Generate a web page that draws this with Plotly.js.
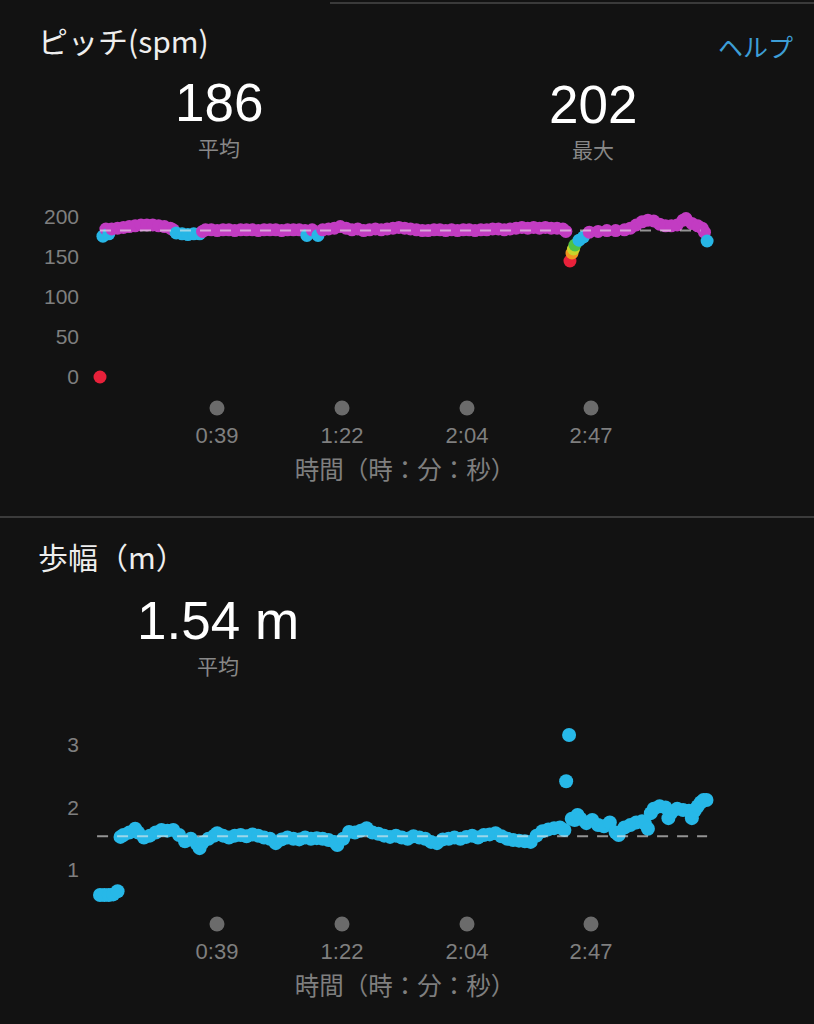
<!DOCTYPE html>
<html>
<head>
<meta charset="utf-8">
<script src="https://cdn.plot.ly/plotly-3.0.1.min.js"></script>
<style>
  html, body { margin: 0; padding: 0; background: #121212; }
  #chart { width: 814px; height: 1024px; }
</style>
</head>
<body>
<div id="chart"></div>
<script>
// ---------- data ----------
const tickTimes = [39.93, 82.59, 125.26, 167.58];
const tickLabels = ['0:39', '1:22', '2:04', '2:47'];

const pitchTime = [0, 1, 2, 3, 4, 6, 8, 10, 12, 14, 16, 18, 20, 22, 24, 25, 26, 28, 30, 32, 34, 35, 36, 38, 40, 42, 44, 46, 48, 50, 52, 54, 56, 58, 60, 62, 64, 66, 68, 70, 70.6, 72.4, 74.4, 76, 78, 80, 82, 84, 86, 88, 90, 92, 94, 96, 98, 100, 102, 104, 106, 108, 110, 112, 114, 116, 118, 120, 122, 124, 126, 128, 130, 132, 134, 136, 138, 140, 142, 144, 146, 148, 150, 152, 154, 156, 158, 159, 160.4, 161.1, 161.6, 162.1, 163.5, 165, 167, 170, 173, 176, 179, 181, 183, 185, 187, 189, 191, 193, 195, 197, 199, 200, 202, 204, 205.5, 206.3, 207.2];
const pitchValue = [0, 176, 185, 179, 185, 186, 187, 188, 189, 190, 190, 190, 189, 188, 186, 184, 180, 179, 178, 179, 179, 182, 184, 184, 183, 184, 184, 183, 184, 184, 184, 183, 184, 184, 184, 183, 184, 184, 184, 183, 177, 184, 177, 184, 185, 186, 188, 186, 184, 185, 183, 184, 185, 184, 185, 186, 187, 186, 185, 184, 183, 183, 184, 184, 183, 184, 183, 184, 184, 183, 184, 184, 185, 185, 184, 185, 186, 187, 186, 187, 186, 187, 186, 186, 185, 182, 145, 155, 160, 165, 171, 175, 181, 182, 183, 183, 184, 186, 190, 194, 196, 195, 191, 189, 189, 190, 196, 198, 192, 189, 186, 181, 170];
const pitchMean = 183;

const strideTime = [0, 1.5, 3, 4.5, 6, 7, 8, 10, 12, 13, 15, 17, 19, 21, 23, 25, 27, 29, 31, 33, 34, 35, 37, 39, 40, 42, 44, 46, 48, 50, 52, 54, 56, 58, 60, 62, 64, 66, 68, 70, 72, 74, 76, 78, 80, 81, 83, 85, 87, 89, 91, 93, 95, 97, 99, 101, 103, 105, 107, 109, 111, 113, 115, 117, 119, 121, 123, 125, 127, 129, 131, 133, 135, 137, 139, 141, 143, 145, 147, 149, 151, 153, 155, 157, 158.5, 159.1, 160.1, 161, 162, 163, 164, 166, 168, 170, 172, 174, 176, 177, 179, 181, 183, 185, 186, 187, 188, 189, 191, 193, 194, 195, 197, 199, 201, 202, 203, 204, 205, 206, 207];
const strideValue = [0.6, 0.6, 0.6, 0.61, 0.66, 1.53, 1.56, 1.6, 1.66, 1.6, 1.52, 1.55, 1.6, 1.64, 1.63, 1.64, 1.56, 1.46, 1.5, 1.42, 1.35, 1.44, 1.5, 1.55, 1.59, 1.55, 1.52, 1.55, 1.56, 1.54, 1.57, 1.55, 1.52, 1.5, 1.43, 1.49, 1.52, 1.5, 1.49, 1.52, 1.5, 1.51, 1.5, 1.48, 1.45, 1.4, 1.5, 1.61, 1.6, 1.63, 1.67, 1.6, 1.58, 1.55, 1.53, 1.55, 1.52, 1.5, 1.54, 1.52, 1.5, 1.45, 1.43, 1.49, 1.5, 1.52, 1.5, 1.53, 1.55, 1.52, 1.56, 1.57, 1.59, 1.54, 1.5, 1.48, 1.47, 1.46, 1.45, 1.55, 1.62, 1.65, 1.67, 1.68, 1.64, 2.42, 3.16, 1.82, 1.8, 1.88, 1.82, 1.75, 1.8, 1.72, 1.7, 1.76, 1.6, 1.56, 1.68, 1.72, 1.76, 1.78, 1.74, 1.66, 1.91, 1.98, 2.02, 2.0, 1.83, 1.92, 1.98, 1.96, 1.95, 1.83, 1.95, 2.02, 2.08, 2.12, 2.12];
const strideMean = 1.54;

// ---------- styling ----------
const BG = '#121212';
const GRAY = '#7f7f7f';
const CJK = '"Noto Sans CJK JP", "Noto Sans", sans-serif';
const NUM = '"Liberation Sans", Arial, sans-serif';

function pitchColor(v) {
  if (v < 150) return '#e8213a';
  if (v < 158) return '#f29420';
  if (v < 162) return '#c9d42a';
  if (v < 170) return '#4fc246';
  if (v < 181) return '#27b6e6';
  return '#c23cc2';
}

const W = 814, H = 1024;
const pxX = p => p / W;
const pxY = p => 1 - p / H;

// x mapping: px = 100 + t*2.93
const xr = [(80 - 100) / 2.93, (730 - 100) / 2.93];
const xDom = [pxX(80), pxX(730)];
// top: v = (377 - py)/0.8
const topRange = [(377 - 420) / 0.8, (377 - 200) / 0.8];
const topDot = (377 - 408) / 0.8;
// bottom: v = 1 + (870 - py)/62.5
const botRange = [1 + (870 - 936) / 62.5, 1 + (870 - 720) / 62.5];
const botDot = 1 + (870 - 924) / 62.5;

const traces = [
  {
    x: pitchTime, y: pitchValue, xaxis: 'x', yaxis: 'y', type: 'scatter', mode: 'markers',
    marker: { size: 13, color: pitchValue.map(pitchColor), line: { width: 0 } },
    cliponaxis: false, hoverinfo: 'skip'
  },
  {
    x: [pitchTime[0], 205], y: [pitchMean, pitchMean], xaxis: 'x', yaxis: 'y', type: 'scatter', mode: 'lines',
    line: { color: 'rgba(235,235,235,0.6)', width: 2, dash: '11px,9px' }, hoverinfo: 'skip'
  },
  {
    x: tickTimes, y: tickTimes.map(() => topDot), xaxis: 'x', yaxis: 'y', type: 'scatter', mode: 'markers',
    marker: { size: 15, color: '#6b6b6b' }, cliponaxis: false, hoverinfo: 'skip'
  },
  {
    x: strideTime, y: strideValue, xaxis: 'x2', yaxis: 'y2', type: 'scatter', mode: 'markers',
    marker: { size: 14, color: '#27b8e8', line: { width: 0 } }, cliponaxis: false, hoverinfo: 'skip'
  },
  {
    x: [-1, 207.2], y: [strideMean, strideMean], xaxis: 'x2', yaxis: 'y2', type: 'scatter', mode: 'lines',
    line: { color: 'rgba(235,235,235,0.6)', width: 2, dash: '11px,9px' }, hoverinfo: 'skip'
  },
  {
    x: tickTimes, y: tickTimes.map(() => botDot), xaxis: 'x2', yaxis: 'y2', type: 'scatter', mode: 'markers',
    marker: { size: 15, color: '#6b6b6b' }, cliponaxis: false, hoverinfo: 'skip'
  }
];

const xAxisCommon = {
  range: xr, domain: xDom, showgrid: false, zeroline: false, showline: false,
  tickmode: 'array', tickvals: tickTimes, ticktext: tickLabels, ticks: '', ticklen: 2,
  tickfont: { family: NUM, size: 22, color: GRAY },
  title: { text: '時間（時：分：秒）', font: { family: CJK, size: 24.5, color: GRAY }, standoff: 14 },
  fixedrange: true
};
const yAxisCommon = {
  showgrid: false, zeroline: false, showline: false, ticks: '',
  tickfont: { family: NUM, size: 21, color: GRAY }, fixedrange: true
};

function ann(text, xPx, yPx, size, color, family, xanchor) {
  return {
    text: text, xref: 'paper', yref: 'paper', x: pxX(xPx), y: pxY(yPx),
    xanchor: xanchor || 'center', yanchor: 'middle', showarrow: false,
    font: { family: family, size: size, color: color }
  };
}

const layout = {
  width: W, height: H,
  margin: { l: 0, r: 0, t: 0, b: 0 },
  paper_bgcolor: BG, plot_bgcolor: BG,
  showlegend: false,
  xaxis: Object.assign({}, xAxisCommon, { anchor: 'y' }),
  yaxis: Object.assign({}, yAxisCommon, {
    anchor: 'x', domain: [pxY(420), pxY(200)], range: topRange,
    tickvals: [0, 50, 100, 150, 200]
  }),
  xaxis2: Object.assign({}, xAxisCommon, { anchor: 'y2' }),
  yaxis2: Object.assign({}, yAxisCommon, {
    anchor: 'x2', domain: [pxY(936), pxY(720)], range: botRange,
    tickvals: [1, 2, 3]
  }),
  annotations: [
    ann('ピッチ(spm)', 36, 40, 30, '#eeeeee', CJK, 'left'),
    ann('ヘルプ', 795, 46, 25, '#3d9ed6', CJK, 'right'),
    ann('186', 219, 102, 53, '#ffffff', NUM),
    ann('平均', 219, 147, 21, '#888888', CJK),
    ann('202', 593, 104, 53, '#ffffff', NUM),
    ann('最大', 593, 149, 21, '#888888', CJK),
    ann('歩幅（m）', 36, 556, 30, '#eeeeee', CJK, 'left'),
    ann('1.54 m', 218, 620, 53, '#ffffff', NUM),
    ann('平均', 218, 665, 21, '#888888', CJK)
  ],
  shapes: [
    { type: 'line', xref: 'paper', yref: 'paper', x0: 0, x1: 1, y0: pxY(517), y1: pxY(517),
      line: { color: '#4a4a4a', width: 1.5 } },
    { type: 'line', xref: 'paper', yref: 'paper', x0: pxX(330), x1: 1, y0: pxY(3), y1: pxY(3),
      line: { color: '#3a3a3a', width: 2 } }
  ]
};

Plotly.newPlot('chart', traces, layout, { staticPlot: true, displayModeBar: false });
</script>
</body>
</html>
